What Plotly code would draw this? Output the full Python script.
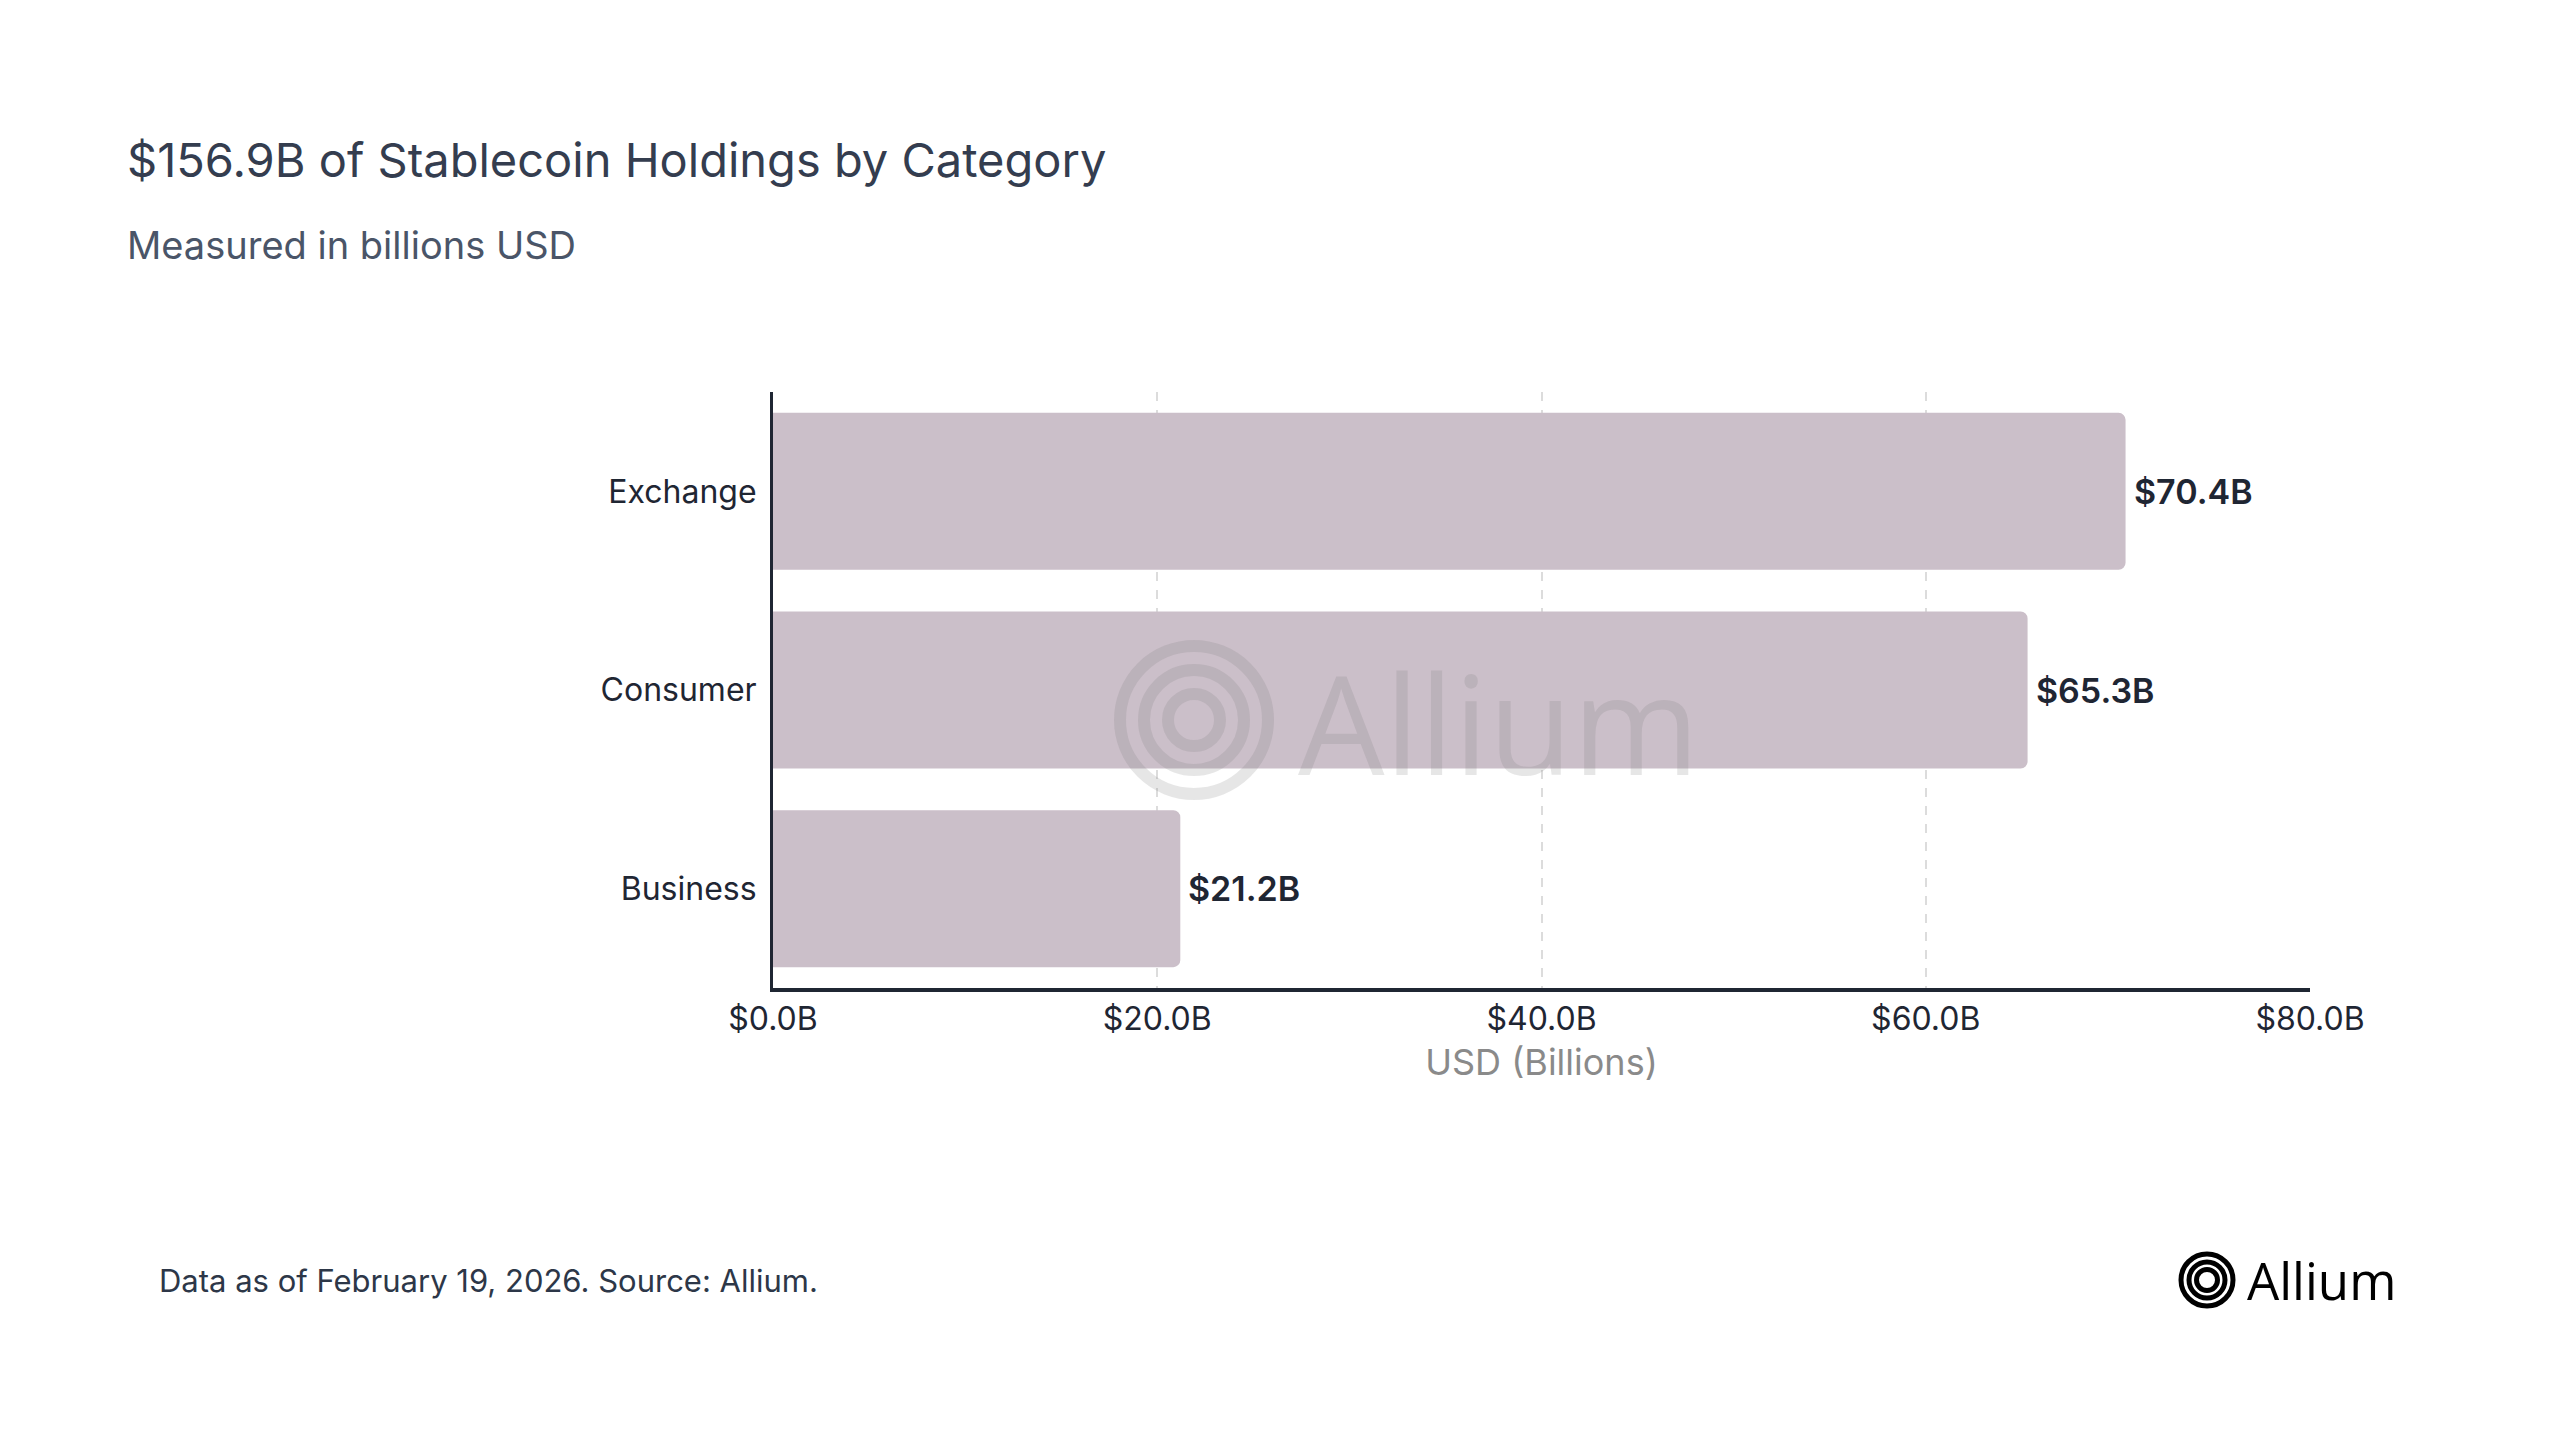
import plotly.graph_objects as go

# ---- data ----
categories = ["Exchange", "Consumer", "Business"]
values_billions = [70.4, 65.3, 21.2]
value_labels = ["$70.4B", "$65.3B", "$21.2B"]
x_tick_values = [0, 20, 40, 60, 80]
x_tick_labels = ["$0.0B", "$20.0B", "$40.0B", "$60.0B", "$80.0B"]

title_text = "$156.9B of Stablecoin Holdings by Category"
subtitle_text = "Measured in billions USD"
x_axis_title = "USD (Billions)"
footer_text = "Data as of February 19, 2026. Source: Allium."
brand_text = "Allium"

# ---- layout geometry (pixels, page coordinates; page has body margin) ----
W, H = 2560, 1440
OX, OY = 6, 8
PL, PR, PT, PB = 771 - OX, 2308 - OX, 392 - OY, 988 - OY

def px(xp):
    return (xp - OX - PL) / (PR - PL)

def py(yp):
    return (PB - (yp - OY)) / (PB - PT)

FONT = "Inter"
DARK = "#1f2633"
BAR = "#cbbfc9"

fig = go.Figure()
fig.add_trace(go.Bar(
    x=values_billions,
    y=categories,
    orientation="h",
    marker=dict(color=BAR, line=dict(width=0), cornerradius=7),
    hoverinfo="skip",
))

shapes = []
def rings(cx, cy, radii, width, color):
    for r in radii:
        shapes.append(dict(
            type="circle", xref="paper", yref="paper",
            xsizemode="pixel", ysizemode="pixel",
            xanchor=px(cx), yanchor=py(cy),
            x0=-r, x1=r, y0=-r, y1=r,
            line=dict(color=color, width=width),
            fillcolor="rgba(0,0,0,0)", layer="above",
        ))

WM = "rgba(124,124,124,0.19)"
rings(1192, 720, [74, 50, 26], 12, WM)
rings(2205, 1280, [26, 18, 10.5], 5, "#000000")

annotations = []
# value labels placed at the end of each bar through the data axes
for cat, val, lab in zip(categories, values_billions, value_labels):
    annotations.append(dict(
        text=lab, x=val, y=cat, xref="x", yref="y",
        xanchor="left", yanchor="middle", xshift=6, showarrow=False,
        font=dict(family=FONT, size=34, color=DARK, weight=600),
    ))

annotations += [
    dict(text=title_text, x=px(123), y=py(160), xref="paper", yref="paper",
         xanchor="left", yanchor="middle", showarrow=False,
         font=dict(family=FONT, size=47, color="#343d4f")),
    dict(text=subtitle_text, x=px(123), y=py(245), xref="paper", yref="paper",
         xanchor="left", yanchor="middle", showarrow=False,
         font=dict(family=FONT, size=38, color="#4a5568")),
    dict(text=footer_text, x=px(155), y=py(1280), xref="paper", yref="paper",
         xanchor="left", yanchor="middle", showarrow=False,
         font=dict(family=FONT, size=31, color="#2d3748")),
    dict(text=brand_text, x=px(1294), y=py(722), xref="paper", yref="paper",
         xanchor="left", yanchor="middle", showarrow=False,
         font=dict(family="Open Sans", size=137, color=WM)),
    dict(text=brand_text, x=px(2243), y=py(1280), xref="paper", yref="paper",
         xanchor="left", yanchor="middle", showarrow=False,
         font=dict(family="Open Sans", size=51, color="#000000")),
]

fig.update_layout(
    width=W, height=H,
    margin=dict(l=PL, r=W - PR, t=PT, b=H - PB, pad=0),
    paper_bgcolor="white", plot_bgcolor="white",
    showlegend=False,
    bargap=0.21,
    shapes=shapes,
    annotations=annotations,
    font=dict(family=FONT, color=DARK),
)

fig.update_xaxes(
    range=[0, 80],
    tickmode="array",
    tickvals=x_tick_values,
    ticktext=x_tick_labels,
    tickfont=dict(family=FONT, size=32, color=DARK),
    showgrid=True, gridcolor="#dcdcdc", gridwidth=1.5, griddash="dash",
    zeroline=False,
    showline=True, linecolor=DARK, linewidth=4,
    ticks="", ticklabelstandoff=0,
    title=dict(text=x_axis_title, standoff=13,
               font=dict(family=FONT, size=36, color="#8a8a8a")),
)
fig.update_yaxes(
    categoryorder="array", categoryarray=categories[::-1],
    tickfont=dict(family=FONT, size=32, color=DARK),
    showgrid=False, zeroline=False,
    showline=True, linecolor=DARK, linewidth=3,
    ticks="", ticklabelstandoff=7,
)

fig.write_html("out.html")
